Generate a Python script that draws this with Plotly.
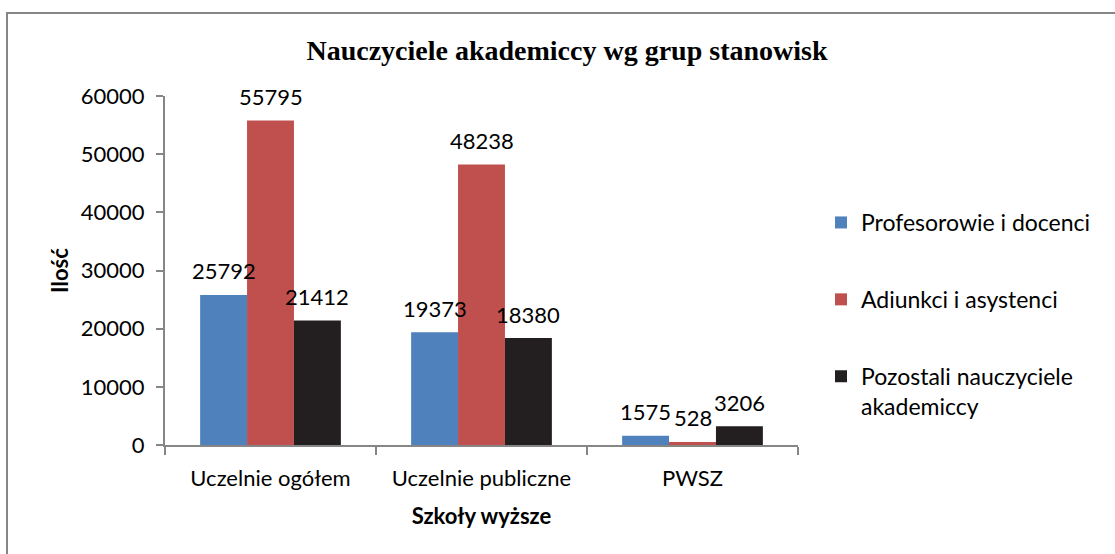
import plotly.graph_objects as go

# data
categories = ["Uczelnie ogółem", "Uczelnie publiczne", "PWSZ"]
series_names = ["Profesorowie i docenci", "Adiunkci i asystenci",
                "Pozostali nauczyciele<br>akademiccy"]
profesorowie = [25792, 19373, 1575]
adiunkci = [55795, 48238, 528]
pozostali = [21412, 18380, 3206]
y_ticks = [0, 10000, 20000, 30000, 40000, 50000, 60000]

colors = ["#4F81BD", "#C0504D", "#231F20"]
font_sans = "Lato"
axis_col = "#868686"
fs = 22

# plot area: x 165..798 px, y 96..445 px
W, H = 1115, 554
l, r, t, b = 165, W - 798, 96, H - 445
pw, ph = 798 - 165, 445 - 96
bargap = 0.333
bar_px = pw / len(categories) * (1 - bargap) / 3

fig = go.Figure()
labels = []
for i, (name, vals) in enumerate(zip(series_names, [profesorowie, adiunkci, pozostali])):
    fig.add_trace(go.Bar(
        x=categories, y=vals, name=name,
        marker=dict(color=colors[i], line=dict(width=0)),
        legendgroup=str(i), hoverinfo="x+y+name",
    ))
    # value labels above each bar, drawn on top of all bars
    for cat, v in zip(categories, vals):
        labels.append(dict(
            x=cat, y=v, xref="x", yref="y", text=str(v), showarrow=False,
            xshift=(i - 1) * bar_px, yshift=24, yanchor="middle",
            font=dict(family=font_sans, size=fs, color="#000000"),
        ))

fig.update_layout(
    width=W, height=H,
    margin=dict(l=l, r=r, t=t, b=b, pad=0),
    paper_bgcolor="white", plot_bgcolor="white",
    barmode="group", bargap=bargap, bargroupgap=0,
    title=dict(text="<b>Nauczyciele akademiccy wg grup stanowisk</b>",
               font=dict(family="Liberation Serif", size=28, color="#000000"),
               x=567 / W, xanchor="center", y=1 - 50 / H, yanchor="middle"),
    legend=dict(x=(821 - l) / pw, xanchor="left", y=(445 - 201) / ph, yanchor="top",
                font=dict(family=font_sans, size=23, color="#000000"),
                tracegroupgap=44, valign="top", itemwidth=30,
                bgcolor="rgba(0,0,0,0)"),
    showlegend=True,
    annotations=labels,
    xaxis=dict(
        showline=True, linecolor=axis_col, linewidth=2,
        ticks="outside", ticklen=8, tickcolor=axis_col, tickwidth=2,
        tickson="boundaries", showgrid=False, ticklabelstandoff=13,
        tickfont=dict(family=font_sans, size=fs, color="#000000"),
        title=dict(text="<b>Szkoły wyższe</b>", standoff=18,
                   font=dict(family=font_sans, size=fs, color="#000000")),
    ),
    yaxis=dict(
        range=[0, 60000], tickvals=y_ticks, ticktext=[str(v) for v in y_ticks],
        showgrid=False, zeroline=False,
        showline=True, linecolor=axis_col, linewidth=2,
        ticks="outside", ticklen=7, tickcolor=axis_col, tickwidth=2,
        ticklabelstandoff=7,
        tickfont=dict(family=font_sans, size=fs, color="#000000"),
        title=dict(text="<b>Ilość</b>", standoff=6,
                   font=dict(family=font_sans, size=fs, color="#000000")),
    ),
    shapes=[dict(type="rect", xref="paper", yref="paper",
                 x0=(7 - l) / pw, x1=(W + 20 - l) / pw,
                 y0=(445 - H - 20) / ph, y1=(445 - 13) / ph,
                 line=dict(color=axis_col, width=2), layer="below")],
)

fig.write_html("out.html", config={"displayModeBar": False},
               post_script="document.body.style.margin='0px';")
